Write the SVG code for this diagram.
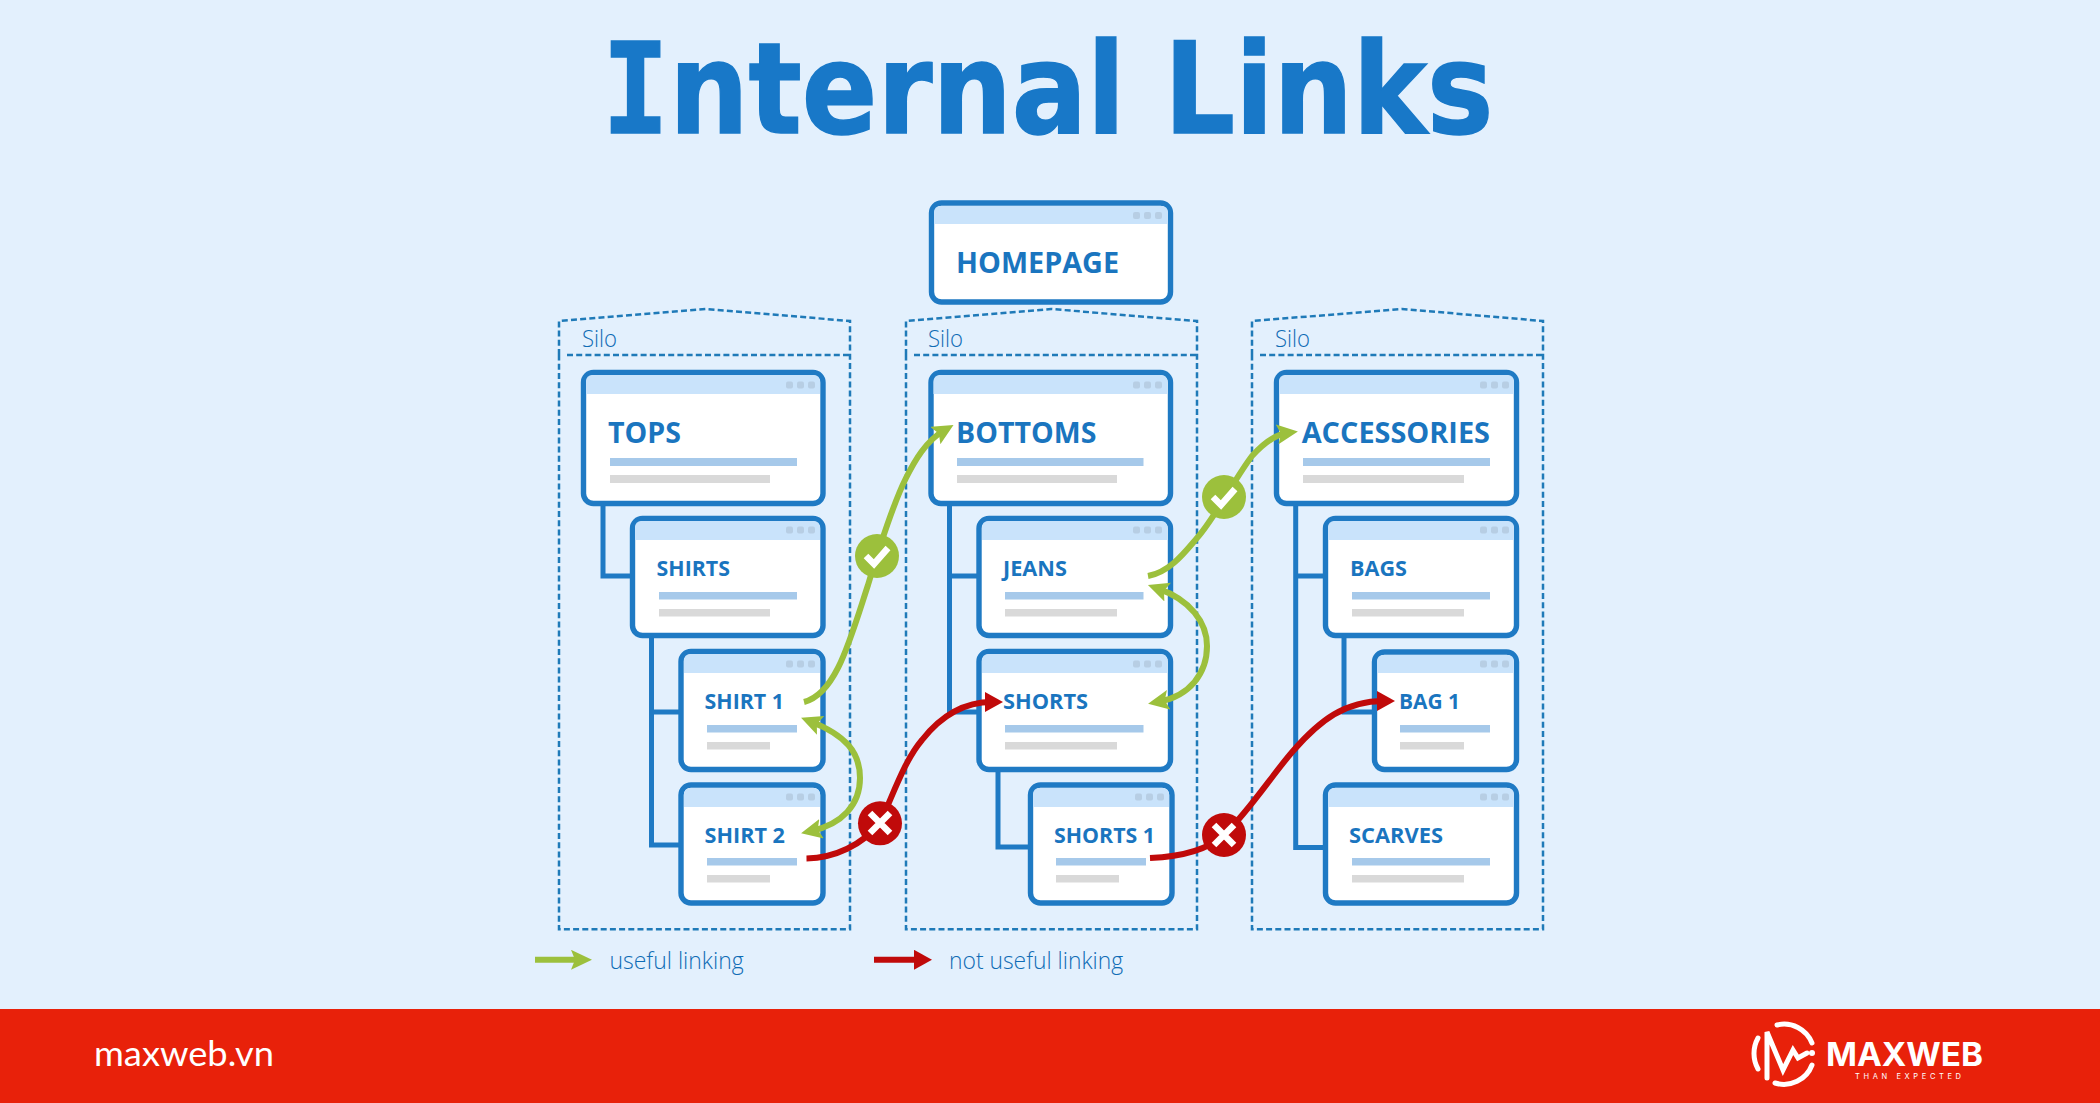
<svg xmlns="http://www.w3.org/2000/svg" width="2100" height="1103" viewBox="0 0 2100 1103">
<style>
.bg{fill:#e3f0fd}
.silo{fill:none;stroke:#1f7ab8;stroke-width:2.5;stroke-dasharray:6 3.2}
.box{fill:#fff;stroke:#1f7ac4;stroke-width:5.4}
.hd{fill:#c9e3fb}
.dot{fill:#b7cee4}
.bar{fill:#a6c9ea}
.gr{fill:#d9d9d9}
.lab{font-family:"Open Sans","Liberation Sans",sans-serif;font-weight:700;fill:#1a75bf}
.l1{font-size:29px}.l2{font-size:22px}
.thin{font-family:"Open Sans","Liberation Sans",sans-serif;font-weight:300;fill:#0f6cb5;font-size:24px}
.tree{fill:none;stroke:#1f7ac4;stroke-width:5}
.g{fill:none;stroke:#9cc03c;stroke-width:6}
.r{fill:none;stroke:#c00a0a;stroke-width:6}
.cg{fill:#9cc03c}.cr{fill:#c00a0a}
.mk{fill:none;stroke:#fff;stroke-width:6.500}
</style>
<defs>
<marker id="ag" markerUnits="userSpaceOnUse" markerWidth="24" markerHeight="22" refX="10" refY="10" orient="auto-start-reverse"><path d="M0 0L21 10L0 20L4 10Z" fill="#9cc03c"/></marker>
<marker id="ar" markerUnits="userSpaceOnUse" markerWidth="24" markerHeight="22" refX="10" refY="10" orient="auto-start-reverse"><path d="M3 0L21 10L3 20Z" fill="#c00a0a"/></marker>
<g id="dots"><rect x="-29" y="-3.500" width="7" height="7" rx="2" class="dot"/><rect x="-18" y="-3.500" width="7" height="7" rx="2" class="dot"/><rect x="-7" y="-3.500" width="7" height="7" rx="2" class="dot"/></g>
</defs>
<rect class="bg" width="2100" height="1103"/>
<text transform="translate(602,132.500) scale(.885,1)" font-family="DejaVu Sans,sans-serif" font-weight="700" font-size="126" fill="#1878c8" stroke="#1878c8" stroke-width="1.500"><tspan font-family="DejaVu Sans Mono,monospace">I</tspan>nternal Links</text>

<g id="silo-1"><path class="silo" d="M559 355V321L706 309L850 321V929.300H559V355M567 355H850"/><text class="thin" x="582" y="346.500" textLength="35" lengthAdjust="spacingAndGlyphs">Silo</text></g>
<g id="silo-2"><path class="silo" d="M906 355V321L1051 309L1197 321V929.300H906V355M914 355H1197"/><text class="thin" x="928" y="346.500" textLength="35" lengthAdjust="spacingAndGlyphs">Silo</text></g>
<g id="silo-3"><path class="silo" d="M1252 355V321L1402 309L1543 321V929.300H1252V355M1260 355H1543"/><text class="thin" x="1275" y="346.500" textLength="35" lengthAdjust="spacingAndGlyphs">Silo</text></g>

<g id="connectors-tree">
<path class="tree" d="M603 505V576H632"/>
<path class="tree" d="M651.500 637V845H681M651.500 712H681"/>
<path class="tree" d="M949.500 505V712H979M949.500 576H979"/>
<path class="tree" d="M998 771V847H1030"/>
<path class="tree" d="M1295.700 505V847.600H1325M1295.700 576H1325"/>
<path class="tree" d="M1344 637V712H1374"/>
</g>

<g id="homepage"><rect class="box" x="931.500" y="203" width="239" height="99" rx="10"/><path class="hd" d="M934 224V212a6 6 0 0 1 6-6H1162a6 6 0 0 1 6 6V224Z"/><use href="#dots" x="1162" y="215.500"/><text class="lab l1" x="956" y="272.700" textLength="163" lengthAdjust="spacingAndGlyphs">HOMEPAGE</text></g>

<g id="tops"><rect class="box" x="583.500" y="372.500" width="239.500" height="131" rx="10"/><path class="hd" d="M586 394V381a6 6 0 0 1 6-6H814a6 6 0 0 1 6 6V394Z"/><use href="#dots" x="815" y="385"/><text class="lab l1" x="608" y="442.700" textLength="73" lengthAdjust="spacingAndGlyphs">TOPS</text><rect class="bar" x="610" y="458" width="187" height="8"/><rect class="gr" x="610" y="475" width="160" height="8"/></g>
<g id="shirts"><rect class="box" x="632.500" y="518.500" width="190.500" height="117" rx="10"/><path class="hd" d="M635 540V527a6 6 0 0 1 6-6H814a6 6 0 0 1 6 6V540Z"/><use href="#dots" x="815" y="530"/><text class="lab l2" x="656.600" y="576" textLength="73.400" lengthAdjust="spacingAndGlyphs">SHIRTS</text><rect class="bar" x="659" y="592" width="138" height="7.500"/><rect class="gr" x="659" y="609" width="111" height="7.500"/></g>
<g id="shirt-1"><rect class="box" x="681" y="651.500" width="142" height="118" rx="10"/><path class="hd" d="M684 673V660a6 6 0 0 1 6-6H814a6 6 0 0 1 6 6V673Z"/><use href="#dots" x="815" y="664"/><text class="lab l2" x="704.600" y="709" textLength="79.400" lengthAdjust="spacingAndGlyphs">SHIRT 1</text><rect class="bar" x="707" y="725" width="90" height="7.500"/><rect class="gr" x="707" y="742" width="63" height="7.500"/></g>
<g id="shirt-2"><rect class="box" x="681" y="785" width="142" height="118" rx="10"/><path class="hd" d="M684 807V794a6 6 0 0 1 6-6H814a6 6 0 0 1 6 6V807Z"/><use href="#dots" x="815" y="797"/><text class="lab l2" x="704.600" y="842.700" textLength="80.400" lengthAdjust="spacingAndGlyphs">SHIRT 2</text><rect class="bar" x="707" y="858" width="90" height="7.500"/><rect class="gr" x="707" y="875" width="63" height="7.500"/></g>

<g id="bottoms"><rect class="box" x="931" y="372.500" width="239.500" height="131" rx="10"/><path class="hd" d="M933.500 394V381a6 6 0 0 1 6-6H1161.500a6 6 0 0 1 6 6V394Z"/><use href="#dots" x="1162" y="385"/><text class="lab l1" x="956" y="442.700" textLength="140.400" lengthAdjust="spacingAndGlyphs">BOTTOMS</text><rect class="bar" x="957" y="458" width="186.500" height="8"/><rect class="gr" x="957" y="475" width="160" height="8"/></g>
<g id="jeans"><rect class="box" x="979" y="518.500" width="191.500" height="117" rx="10"/><path class="hd" d="M982 540V527a6 6 0 0 1 6-6H1161.500a6 6 0 0 1 6 6V540Z"/><use href="#dots" x="1162" y="530"/><text class="lab l2" x="1003" y="576" textLength="64" lengthAdjust="spacingAndGlyphs">JEANS</text><rect class="bar" x="1005" y="592" width="138.500" height="7.500"/><rect class="gr" x="1005" y="609" width="112" height="7.500"/></g>
<g id="shorts"><rect class="box" x="979" y="651.500" width="191.500" height="118" rx="10"/><path class="hd" d="M982 673V660a6 6 0 0 1 6-6H1161.500a6 6 0 0 1 6 6V673Z"/><use href="#dots" x="1162" y="664"/><text class="lab l2" x="1003" y="709" textLength="85" lengthAdjust="spacingAndGlyphs">SHORTS</text><rect class="bar" x="1005" y="725" width="138.500" height="7.500"/><rect class="gr" x="1005" y="742" width="112" height="7.500"/></g>
<g id="shorts-1"><rect class="box" x="1030.500" y="785" width="141.500" height="118" rx="10"/><path class="hd" d="M1033 807V794a6 6 0 0 1 6-6H1163a6 6 0 0 1 6 6V807Z"/><use href="#dots" x="1164" y="797"/><text class="lab l2" x="1054" y="842.700" textLength="101" lengthAdjust="spacingAndGlyphs">SHORTS 1</text><rect class="bar" x="1056" y="858" width="90" height="7.500"/><rect class="gr" x="1056" y="875" width="63" height="7.500"/></g>

<g id="accessories"><rect class="box" x="1276.500" y="372.500" width="240" height="131" rx="10"/><path class="hd" d="M1279 394V381a6 6 0 0 1 6-6H1508a6 6 0 0 1 6 6V394Z"/><use href="#dots" x="1509" y="385"/><text class="lab l1" x="1301.700" y="442.500" textLength="188.300" lengthAdjust="spacingAndGlyphs">ACCESSORIES</text><rect class="bar" x="1303" y="458" width="187" height="8"/><rect class="gr" x="1303" y="475" width="161" height="8"/></g>
<g id="bags"><rect class="box" x="1325.500" y="518.500" width="191" height="117" rx="10"/><path class="hd" d="M1328 540V527a6 6 0 0 1 6-6H1508a6 6 0 0 1 6 6V540Z"/><use href="#dots" x="1509" y="530"/><text class="lab l2" x="1350" y="576" textLength="57" lengthAdjust="spacingAndGlyphs">BAGS</text><rect class="bar" x="1352" y="592" width="138" height="7.500"/><rect class="gr" x="1352" y="609" width="112" height="7.500"/></g>
<g id="bag-1"><rect class="box" x="1374.500" y="652" width="142" height="117.500" rx="10"/><path class="hd" d="M1377 673V661a6 6 0 0 1 6-6H1508a6 6 0 0 1 6 6V673Z"/><use href="#dots" x="1509" y="664"/><text class="lab l2" x="1399" y="709" textLength="61" lengthAdjust="spacingAndGlyphs">BAG 1</text><rect class="bar" x="1400" y="725" width="90" height="7.500"/><rect class="gr" x="1400" y="742" width="64" height="7.500"/></g>
<g id="scarves"><rect class="box" x="1325.500" y="785" width="191" height="118" rx="10"/><path class="hd" d="M1328 807V794a6 6 0 0 1 6-6H1508a6 6 0 0 1 6 6V807Z"/><use href="#dots" x="1509" y="797"/><text class="lab l2" x="1349" y="842.500" textLength="94" lengthAdjust="spacingAndGlyphs">SCARVES</text><rect class="bar" x="1352" y="858" width="138" height="7.500"/><rect class="gr" x="1352" y="875" width="112" height="7.500"/></g>

<g id="connectors">
<path class="g" marker-end="url(#ag)" d="M804 702C836 694 850 640 868 585C880 545 895 500 906 478C915 460 926 441 944 430.500"/>
<path class="g" marker-start="url(#ag)" marker-end="url(#ag)" d="M811.300 721.700C845 735 860 752 860 778C860 805 842 824 811.800 830.900"/>
<path class="r" marker-end="url(#ar)" d="M806.500 858.500C835 858 862 845 880 823C895 790 905 760 922 740C940 717 962 702 992 702"/>
<path class="g" marker-end="url(#ag)" d="M1148 576C1170 572 1185 552 1197 538C1215 518 1235 478 1252 456C1262 445 1273 435 1287 433"/>
<path class="g" marker-start="url(#ag)" marker-end="url(#ag)" d="M1158.300 588.700C1190 600 1207 622 1207 646C1207 673 1190 696 1158.900 701.700"/>
<path class="r" marker-end="url(#ar)" d="M1150 858C1175 857 1205 852 1224 835C1250 810 1272 775 1293 751C1320 720 1345 701 1384 701"/>
</g>
<g id="badge-ok-1"><circle class="cg" cx="877" cy="556" r="22"/><path class="mk" d="M866 556L874 564L888 548"/></g>
<g id="badge-no-1"><circle class="cr" cx="880" cy="823.300" r="22"/><path class="mk" d="M870 813L890 833M890 813L870 833"/></g>
<g id="badge-ok-2"><circle class="cg" cx="1224" cy="497" r="22"/><path class="mk" d="M1213 497L1221 505L1235 489"/></g>
<g id="badge-no-2"><circle class="cr" cx="1224" cy="835" r="22"/><path class="mk" d="M1214 825L1234 845M1234 825L1214 845"/></g>

<g id="legend">
<path class="g" marker-end="url(#ag)" d="M535 959.800H581"/><text class="thin" x="609.400" y="969" textLength="134.300" lengthAdjust="spacingAndGlyphs">useful linking</text>
<path class="r" marker-end="url(#ar)" d="M874 959.800H921"/><text class="thin" x="949" y="969" textLength="174" lengthAdjust="spacingAndGlyphs">not useful linking</text>
</g>

<g id="banner">
<rect y="1009" width="2100" height="94" fill="#e8210a"/>
<text x="94" y="1066" font-family="Lato,sans-serif" font-size="35" font-weight="400" fill="#fff" textLength="180" lengthAdjust="spacingAndGlyphs">maxweb.vn</text>
<g fill="none" stroke="#fff" stroke-width="5" stroke-linecap="round">
<path d="M1758 1038A32 32 0 0 0 1758 1069"/>
<path d="M1777 1025A30 30 0 0 1 1812 1043M1812 1065A30 30 0 0 1 1775 1083"/>
<path d="M1767 1078V1032L1783 1070L1793 1050L1798 1058L1807 1053"/>
</g>
<circle cx="1812" cy="1053" r="3" fill="#fff"/>
<text x="1826" y="1066" font-family="Inter,sans-serif" font-weight="700" font-size="32" fill="#fff" textLength="157" lengthAdjust="spacingAndGlyphs">MAXWEB</text>
<text x="1855" y="1078.500" font-family="Inter,sans-serif" font-size="7.500" fill="#fff" textLength="106">THAN EXPECTED</text>
</g>
</svg>
